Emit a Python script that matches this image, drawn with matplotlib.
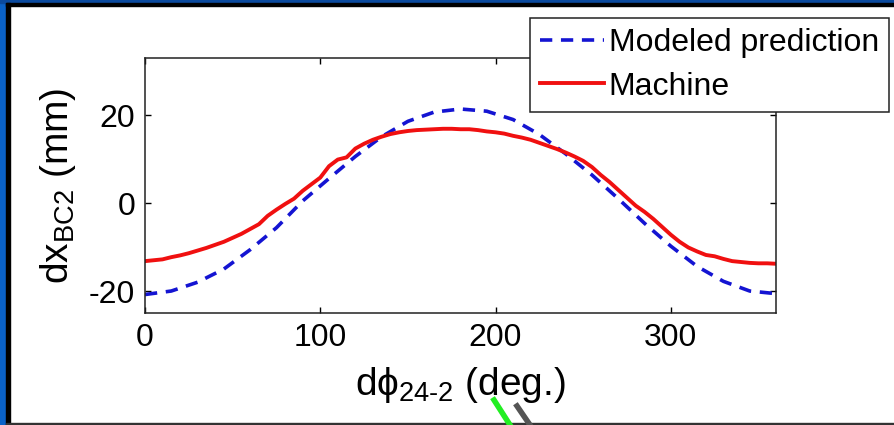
import numpy as np
import matplotlib.pyplot as plt
from matplotlib.patches import Rectangle
from matplotlib.lines import Line2D

# Modeled prediction (blue dashed), read every 15 deg
phi_model = [0, 15, 30, 45, 60, 75, 90, 105, 120, 135, 150, 165, 180,
             195, 210, 225, 240, 255, 270, 285, 300, 315, 330, 345, 360]
dx_model = [-20.8, -20.0, -18.0, -15.0, -10.6, -5.6, 0.5, 5.6, 10.6, 15.1, 18.6, 20.7, 21.4,
            20.9, 19.0, 15.6, 11.2, 6.4, 1.0, -4.6, -9.8, -14.4, -17.8, -20.0, -20.6]

# Machine measurement (red), read every 5 deg
phi_machine = list(range(0, 361, 5))
dx_machine = [-13.2, -13.0, -12.8, -12.3, -11.9, -11.4, -10.8, -10.2, -9.5, -8.8,
              -7.9, -7.0, -5.9, -4.8, -2.9, -1.5, -0.2, 1.0, 2.8, 4.3,
              5.8, 8.4, 9.9, 10.4, 12.4, 13.5, 14.4, 15.1, 15.7, 16.1,
              16.4, 16.6, 16.7, 16.8, 16.9, 16.9, 16.8, 16.8, 16.6, 16.3,
              16.1, 15.8, 15.3, 14.9, 14.4, 13.7, 13.0, 12.3, 11.5, 10.6,
              9.6, 8.2, 6.4, 4.8, 3.0, 1.2, -0.6, -2.0, -3.6, -5.4,
              -7.2, -8.8, -10.1, -11.0, -11.8, -12.1, -12.7, -13.2, -13.4, -13.6,
              -13.7, -13.7, -13.8]

xticks = [0, 100, 200, 300]
yticks = [-20, 0, 20]

plt.rcParams['font.family'] = ['Liberation Sans', 'DejaVu Sans']
plt.rcParams['mathtext.fontset'] = 'custom'
plt.rcParams['mathtext.rm'] = 'Liberation Sans'
plt.rcParams['mathtext.it'] = 'Liberation Sans'
plt.rcParams['mathtext.fallback'] = 'stixsans'
plt.rcParams['axes.unicode_minus'] = False

fig = plt.figure(figsize=(8.95, 4.25), dpi=100)
W, H = 895, 425

# slide frame: blue strips on left/top, black inner line
fig.patches.append(Rectangle((0, 0), 6 / W, 1, transform=fig.transFigure,
                             color='#0a62c8', zorder=0))
fig.patches.append(Rectangle((0, 1 - 3 / H), 1, 3 / H, transform=fig.transFigure,
                             color='#0b4a9e', zorder=0))
fig.patches.append(Rectangle((6 / W, 0), 4 / W, 1 - 3 / H, transform=fig.transFigure,
                             color='black', zorder=0))
fig.patches.append(Rectangle((6 / W, 1 - 6 / H), 1, 3 / H, transform=fig.transFigure,
                             color='black', zorder=0))
fig.patches.append(Rectangle((6 / W, 0), 1, 2 / H, transform=fig.transFigure,
                             color='#333333', zorder=0))
# small arrow fragments at the bottom of the slide
fig.lines.append(Line2D([494 / W, 510 / W], [1 - 400 / H, 1 - 425 / H],
                        transform=fig.transFigure, color='#22ee22', lw=4))
fig.lines.append(Line2D([517 / W, 530 / W], [1 - 406 / H, 1 - 425 / H],
                        transform=fig.transFigure, color='#555555', lw=4))

ax = fig.add_axes([145 / W, 1 - 313 / H, 631 / W, 255 / H])

ax.plot(phi_model, dx_model, color='#1414d2', lw=2.6, dashes=(3.4, 2.4),
        label='Modeled prediction')
ax.plot(phi_machine, dx_machine, color='#f01010', lw=2.8, label='Machine')

ax.set_xlim(0, 360)
ax.set_ylim(-25, 33)
ax.set_xticks(xticks)
ax.set_yticks(yticks)
ax.tick_params(direction='in', length=4, width=1, top=True, right=True,
               labelsize=23, pad=7)
for s in ax.spines.values():
    s.set_linewidth(1.1)
    s.set_color('#222222')

ax.set_ylabel(r'dx$_{\mathrm{BC2}}$ (mm)', fontsize=28, labelpad=8)
ax.set_xlabel(r'd$\phi_{\mathrm{24\text{-}2}}$ (deg.)', fontsize=28, labelpad=9)

leg = ax.legend(loc='upper right', bbox_to_anchor=(889 / W, 1 - 18 / H),
                bbox_transform=fig.transFigure, fontsize=23, frameon=True,
                fancybox=False, framealpha=1, edgecolor='#222222',
                handlelength=2.0, handletextpad=0.15, labelspacing=0.42,
                borderpad=0.32, borderaxespad=0)
leg.get_frame().set_linewidth(1.1)

fig.savefig('out.png', dpi=100)
